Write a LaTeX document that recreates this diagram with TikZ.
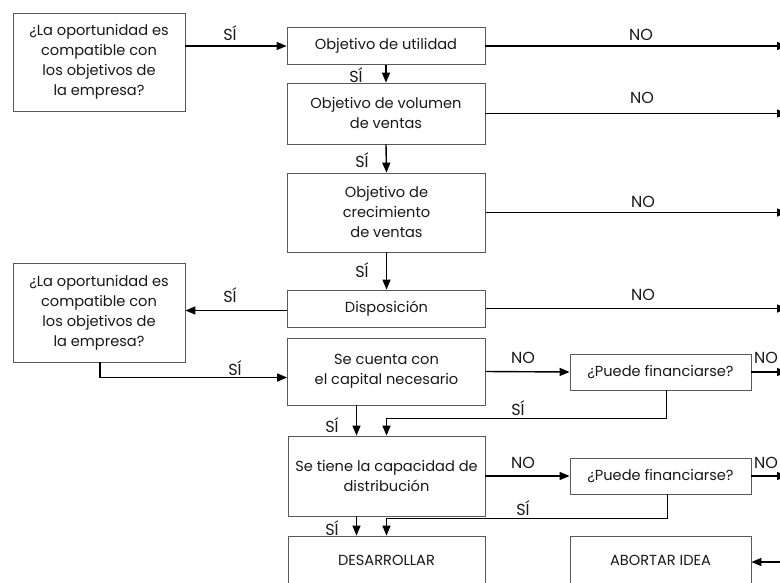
\documentclass[tikz,border=0pt]{standalone}
\usepackage{fontspec}
\setmainfont{Poppins}
\usetikzlibrary{arrows.meta,calc}
\tikzset{
  box/.style={draw=black!65, line width=0.8pt, align=center, inner sep=2pt,
              font=\fontsize{14.6}{20}\selectfont, text=black!90},
  arr/.style={line width=1.4pt, -{Triangle[length=10pt,width=8pt]}},
  lbl/.style={font=\fontsize{16}{18}\selectfont, inner sep=0pt, text=black!90},
}
\begin{document}
\begin{tikzpicture}[x=1pt,y=-1pt]
\useasboundingbox (0,0) rectangle (780,582);
\clip (0,0) rectangle (780,582);
\fill[white] (0,0) rectangle (780,582);

% free ends beyond the right border
\coordinate (edge) at (787,0);

% boxes
\node[box, minimum width=172pt, minimum height=98pt] (q1) at (99,62)
  {¿La oportunidad es\\compatible con\\los objetivos de\\la empresa?};
\node[box, minimum width=198pt, minimum height=37pt] (util) at (386,46)
  {Objetivo de utilidad};
\node[box, minimum width=198pt, minimum height=61pt] (vol) at (386,113.5)
  {Objetivo de volumen\\de ventas};
\node[box, minimum width=198pt, minimum height=79pt] (crec) at (386.5,212.5)
  {Objetivo de\\crecimiento\\de ventas};
\node[box, minimum width=198pt, minimum height=37pt] (disp) at (386.5,308.5)
  {Disposición};
\node[box, minimum width=172pt, minimum height=99pt] (q2) at (99,312.5)
  {¿La oportunidad es\\compatible con\\los objetivos de\\la empresa?};
\node[box, minimum width=198pt, minimum height=67pt] (cap) at (386.5,371.5)
  {Se cuenta con\\el capital necesario};
\node[box, minimum width=181pt, minimum height=36pt] (fin1) at (660.5,372)
  {¿Puede financiarse?};
\node[box, minimum width=197pt, minimum height=80pt] (tiene) at (386.5,476)
  {Se tiene la capacidad de\\distribución};
\node[box, minimum width=181pt, minimum height=36pt] (fin2) at (660.5,476)
  {¿Puede financiarse?};
\node[box, minimum width=197pt, minimum height=48pt] (dev) at (386.5,560)
  {DESARROLLAR};
\node[box, minimum width=181pt, minimum height=48pt] (abort) at (660.5,560)
  {ABORTAR IDEA};

% connectors
\draw[arr] (util.west -| q1.east) -- (util.west);
\draw[arr] (util.east) -- (util.east -| edge);
\draw[arr] (util.south) -- (vol.north);
\draw[arr] (vol.east) -- (vol.east -| edge);
\draw[arr] (vol.south) -- (crec.north);
\draw[arr] (crec.east) -- (crec.east -| edge);
\draw[arr] (crec.south) -- (disp.north);
\draw[arr] (disp.east) -- (disp.east -| edge);
\draw[arr] ([yshift=-2pt]disp.west) -- ([yshift=-2pt]disp.west -| q2.east);
\draw[arr] ([xshift=1pt]q2.south) |- ([yshift=-6pt]cap.west);
\draw[arr] (cap.east) -- (fin1.west);
\draw[arr] (fin1.east) -- (fin1.east -| edge);
\draw[arr] ([xshift=6pt]fin1.south) |- ([yshift=17pt]tiene.north) -- (tiene.north);
\draw[arr] ([xshift=-30pt]cap.south) -- ([xshift=-30pt]tiene.north);
\draw[arr] (tiene.east) -- (fin2.west);
\draw[arr] (fin2.east) -- (fin2.east -| edge);
\draw[arr] ([xshift=7pt]fin2.south) |- ([yshift=17pt]dev.north) -- (dev.north);
\draw[arr] ([xshift=-30pt]tiene.south) -- ([xshift=-30pt]dev.north);
\draw[arr] ([yshift=-2pt]abort.east -| edge) -- ([yshift=-2pt]abort.east);

% branch labels
\node[lbl] (s1) at (230,33) {SÍ};
\node[lbl] (n1) at (641,35) {NO};
\node[lbl] (s2) at (356,75) {SÍ};
\node[lbl] (n2) at (642,98) {NO};
\node[lbl] (s3) at (362,160) {SÍ};
\node[lbl] (n3) at (643,202) {NO};
\node[lbl] (s4) at (362,270) {SÍ};
\node[lbl] (s5) at (230,295) {SÍ};
\node[lbl] (n4) at (643,295) {NO};
\node[lbl] (s6) at (235,368) {SÍ};
\node[lbl] (n5) at (523,358) {NO};
\node[lbl, anchor=west] (n6) at (754,358) {NO};
\node[lbl] (s7) at (518,408) {SÍ};
\node[lbl] (s8) at (332,425) {SÍ};
\node[lbl] (n7) at (523,463) {NO};
\node[lbl, anchor=west] (n8) at (754,463) {NO};
\node[lbl] (s9) at (523,508) {SÍ};
\node[lbl] (s10) at (332,528) {SÍ};
\end{tikzpicture}
\end{document}
